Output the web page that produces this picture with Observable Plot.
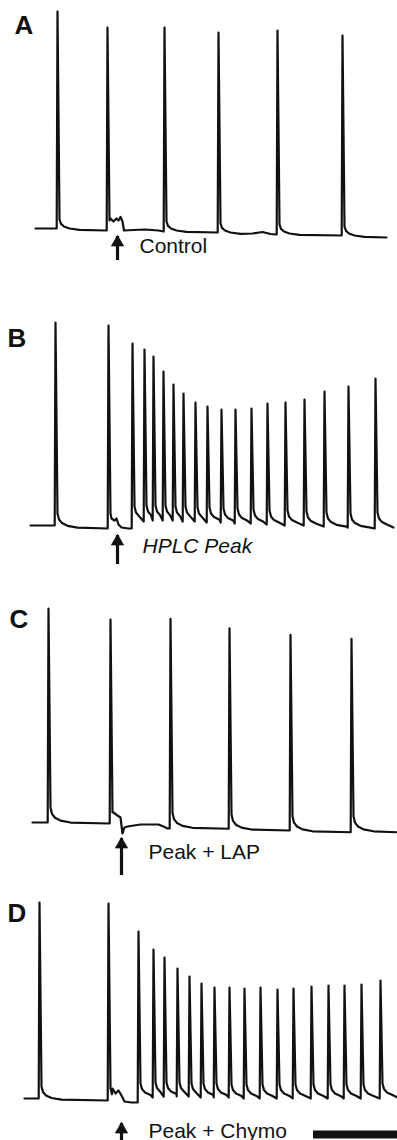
<!DOCTYPE html>
<html>
<head>
<meta charset="utf-8">
<script src="https://cdn.jsdelivr.net/npm/d3@7"></script>
<script src="https://cdn.jsdelivr.net/npm/@observablehq/plot@0.6"></script>
<style>
html, body { margin: 0; padding: 0; background: #fff; overflow: hidden; }
#chart { position: relative; width: 397px; height: 1140px; background: #fff; }
#chart svg { position: absolute; left: 0; }
</style>
</head>
<body>
<div id="chart"></div>
<script>
// ---------------- DATA (time in record units, membrane potential in mV) ----------------
const panelLetters = ["A", "B", "C", "D"];
const stimLabels = ["Control", "HPLC Peak", "Peak + LAP", "Peak + Chymo"];
const stimTimes = [117, 117, 121, 121];

// action-potential waveform shape: time after peak, fraction of after-depolarisation left
const apOffsets = [2, 3.5, 6.5, 12, 22];
const apFractions = [1, 0.6, 0.36, 0.18, 0.06];
const afterDepol = [4.4, 6, 6.4, 5.6];

// Panel A — Control
const aStart = [35, -60];
const aEnd = [386, -63.6];
const aSpikeT = [57, 107, 164, 218, 277, 342];
const aSpikePeak = [26.8, 20.4, 20.4, 18.4, 19.2, 17.2];
const aSpikeTrough = [-60, -60.8, -61.2, -61.6, -62.4, -62.8];
const aExtraT = [110, 113, 116, 118, 120, 122, 123.5, 133, 145, 158, 252, 262, 270];
const aExtraV = [-56, -57.2, -56, -56.8, -55.4, -57.2, -60.8, -60.6, -60.4, -60.8, -62, -61.4, -62.2];

// Panel B — HPLC Peak
const bStart = [30, -60];
const bEnd = [393, -60.8];
const bSpikeT = [55, 108, 132, 144, 153, 163, 173, 183, 195, 207, 221, 235, 251, 267, 285, 304, 324, 348, 375];
const bSpikePeak = [21.2, 20, 12.8, 10.4, 7.6, 1.6, -3.6, -7.2, -10.8, -12.4, -13.6, -13.6, -13.2, -11.2, -10.8, -9.6, -6.4, -4.4, -1.2];
const bSpikeTrough = [-60, -61.2, -61.2, -58.4, -58, -58, -58, -58.4, -58.4, -58.8, -58.8, -59.2, -59.2, -59.6, -60, -60, -60.4, -60.8, -61.2];
const bExtraT = [111, 114, 116, 118, 121, 128];
const bExtraV = [-57.2, -58, -57.2, -59.6, -60.8, -61.2];

// Panel C — Peak + LAP
const cStart = [32, -60];
const cEnd = [397, -63.9];
const cSpikeT = [48, 110, 170, 229, 290, 351];
const cSpikePeak = [25.6, 21.2, 21.5, 17.7, 15.1, 13.5];
const cSpikeTrough = [-60, -60.4, -62.4, -62.5, -63.2, -63.9];
const cExtraT = [113, 117, 120, 121, 122, 124, 127, 140, 158, 163, 167];
const cExtraV = [-56, -57.2, -58, -61.2, -64.4, -62, -61.6, -60.8, -60.8, -61.6, -62.4];

// Panel D — Peak + Chymo
const dStart = [24, -60];
const dEnd = [397, -59.6];
const dSpikeT = [39, 108, 138, 153, 164, 177, 189, 201, 214, 229, 244, 260, 277, 293, 311, 328, 344, 361, 380];
const dSpikePeak = [18.4, 18, 6.8, -0.4, -3.6, -8, -11.2, -14, -15.6, -15.6, -16, -15.6, -16.4, -16, -15.2, -14.8, -14.8, -14.4, -12.8];
const dSpikeTrough = [-60, -60.8, -61.6, -59.6, -59.2, -59.2, -59.2, -59.6, -59.6, -59.6, -60, -60, -60, -60, -60, -60, -60, -60, -60];
const dExtraT = [112, 115, 118, 121, 124, 131];
const dExtraV = [-56, -58, -56.8, -58.8, -61.2, -61.6];

// stimulus arrows [bottom, tip] and label baselines (mV units of each panel)
const arrowBottom = [-70, -72.8, -78.4, -77.6];
const arrowTip = [-63.2, -64, -66.4, -70];
const labelLevel = [-69.6, -70.8, -74.4, -75.6];

// time scale bar (panel D)
const scaleBarT = [313, 397];
const scaleBarLevel = -74.4;

// ---------------- LAYOUT / STYLE ----------------
const W = 397;
const yDomain = [-80, 30];
const pxPerMv = 2.5;
const panelTop = [3, 300, 597, 873];
const letterPos = [[14, 12], [7, 28], [9, 12], [7, 30]];
const labelDx = [22, 25, 27, 27];
const labelItalic = [false, true, false, false];
const font = "'Liberation Sans', Arial, Helvetica, sans-serif";

const panels = [
  [aStart, aEnd, aSpikeT, aSpikePeak, aSpikeTrough, aExtraT, aExtraV],
  [bStart, bEnd, bSpikeT, bSpikePeak, bSpikeTrough, bExtraT, bExtraV],
  [cStart, cEnd, cSpikeT, cSpikePeak, cSpikeTrough, cExtraT, cExtraV],
  [dStart, dEnd, dSpikeT, dSpikePeak, dSpikeTrough, dExtraT, dExtraV]
];

function buildTrace([start, end, spT, spPk, spTr, exT, exV], adp) {
  const pts = [{t: start[0], v: start[1]}];
  spT.forEach((t, i) => {
    pts.push({t: t - 0.8, v: spTr[i]});
    pts.push({t, v: spPk[i]});
    const last = i === spT.length - 1;
    const nextSpike = last ? end[0] : spT[i + 1] - 0.8;
    const nextExtra = exT.find(e => e > t);
    const limit = Math.min(nextSpike, nextExtra === undefined ? Infinity : nextExtra);
    const target = last ? end[1] : spTr[i + 1];
    apOffsets.forEach((o, k) => {
      if (t + o < limit) pts.push({t: t + o, v: target + adp * apFractions[k]});
    });
  });
  exT.forEach((t, k) => pts.push({t, v: exV[k]}));
  pts.push({t: end[0], v: end[1]});
  pts.sort((p, q) => p.t - q.t);
  return pts;
}

const chart = document.getElementById("chart");
const H = (yDomain[1] - yDomain[0]) * pxPerMv;

panels.forEach((p, i) => {
  const trace = buildTrace(p, afterDepol[i]);
  const stim = [stimTimes[i]];
  const marks = [
    Plot.line(trace, {x: "t", y: "v", stroke: "#111", strokeWidth: 2.2, strokeLinejoin: "round"}),
    Plot.ruleX(stim, {x: d => d, y1: () => arrowBottom[i], y2: () => arrowTip[i], stroke: "#111", strokeWidth: 3.2, insetTop: 7}),
    Plot.dot(stim, {x: d => d, y: () => arrowTip[i], symbol: "triangle", r: 4.6, fill: "#111", stroke: "#111", strokeWidth: 0.6, dy: 6}),
    Plot.text([stimLabels[i]], {x: () => stimTimes[i], y: () => labelLevel[i], dx: labelDx[i], text: d => d,
      textAnchor: "start", lineAnchor: "bottom", fontSize: 21, fontStyle: labelItalic[i] ? "italic" : "normal", fill: "#111"}),
    Plot.text([panelLetters[i]], {frameAnchor: "top-left", dx: letterPos[i][0], dy: letterPos[i][1], text: d => d,
      textAnchor: "start", lineAnchor: "top", fontSize: 26, fontWeight: "bold", fill: "#111"})
  ];
  if (i === 3) {
    marks.push(Plot.ruleY([scaleBarLevel], {y: d => d, x1: () => scaleBarT[0], x2: () => scaleBarT[1], stroke: "#111", strokeWidth: 8}));
  }
  const svg = Plot.plot({
    width: W, height: H, margin: 0,
    x: {domain: [0, W], axis: null},
    y: {domain: yDomain, axis: null},
    style: {background: "transparent", fontFamily: font, overflow: "visible"},
    marks
  });
  svg.style.position = "absolute";
  svg.style.top = panelTop[i] + "px";
  svg.style.left = "0px";
  chart.appendChild(svg);
});
</script>
</body>
</html>
